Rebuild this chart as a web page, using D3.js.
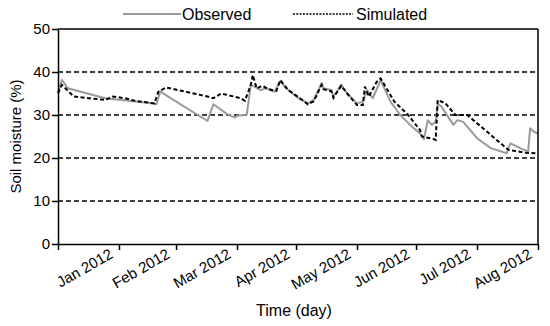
<!DOCTYPE html>
<html><head><meta charset="utf-8">
<script src="https://cdn.jsdelivr.net/npm/d3@7"></script>
<style>body{margin:0;background:#fff}svg{display:block}text{font-family:"Liberation Sans",Arial,sans-serif;fill:#000}</style>
</head><body><svg id="c" width="550" height="326"></svg>
<script>
const observedDates = ["2012-01-01","2012-01-03","2012-01-06","2012-01-25","2012-02-19","2012-02-20","2012-02-22","2012-02-27","2012-03-17","2012-03-20","2012-03-27","2012-03-31","2012-04-01","2012-04-05","2012-04-06","2012-04-08","2012-04-10","2012-04-13","2012-04-16","2012-04-20","2012-04-23","2012-04-26","2012-05-02","2012-05-07","2012-05-10","2012-05-14","2012-05-15","2012-05-19","2012-05-20","2012-05-24","2012-05-27","2012-06-01","2012-06-04","2012-06-06","2012-06-09","2012-06-13","2012-06-18","2012-06-23","2012-06-28","2012-07-03","2012-07-05","2012-07-07","2012-07-09","2012-07-11","2012-07-12","2012-07-14","2012-07-20","2012-07-22","2012-07-25","2012-08-01","2012-08-08","2012-08-16","2012-08-18","2012-08-23","2012-08-27","2012-08-28","2012-08-30","2012-09-01"];
const observedValues = [35.2,38.2,36.2,33.9,32.7,32.5,35.5,34.0,28.6,32.5,30.2,29.4,29.8,30.0,30.2,37.0,36.6,35.8,36.2,35.4,37.9,36.2,34.0,32.7,33.5,37.4,36.2,35.8,34.3,37.0,35.0,32.7,33.1,35.8,33.9,38.1,33.1,30.0,27.7,25.7,24.4,28.8,27.7,28.4,32.6,31.9,27.7,28.8,28.4,24.6,22.3,21.1,23.4,22.3,21.5,26.9,26.1,25.7];

const simulatedDates = ["2012-01-01","2012-01-03","2012-01-09","2012-01-25","2012-01-29","2012-02-04","2012-02-09","2012-02-19","2012-02-21","2012-02-25","2012-03-02","2012-03-10","2012-03-17","2012-03-20","2012-03-24","2012-04-03","2012-04-05","2012-04-08","2012-04-09","2012-04-11","2012-04-14","2012-04-17","2012-04-21","2012-04-23","2012-04-27","2012-05-03","2012-05-07","2012-05-10","2012-05-14","2012-05-15","2012-05-19","2012-05-20","2012-05-24","2012-05-27","2012-06-01","2012-06-04","2012-06-05","2012-06-07","2012-06-11","2012-06-13","2012-06-20","2012-06-27","2012-07-03","2012-07-04","2012-07-10","2012-07-11","2012-07-12","2012-07-16","2012-07-21","2012-07-27","2012-08-01","2012-08-11","2012-08-17","2012-08-26","2012-09-01"];
const simulatedValues = [35.1,37.0,34.3,33.5,34.3,33.9,33.3,32.7,35.4,36.4,35.8,35.0,34.3,33.9,35.0,33.9,33.3,37.0,39.3,36.2,36.8,36.0,35.6,38.1,35.8,33.9,32.5,33.2,37.0,36.0,35.5,34.0,36.8,35.0,32.3,32.3,36.6,34.3,37.7,38.5,33.1,30.0,26.5,25.0,24.4,24.2,33.5,32.7,30.0,30.0,28.1,24.2,21.9,21.2,21.1];

const yTicks = [0,10,20,30,40,50];
const gridValues = [10,20,30,40];
const monthTicks = ["2012-01-01","2012-02-01","2012-03-01","2012-04-01","2012-05-01","2012-06-01","2012-07-01","2012-08-01","2012-09-01"];
const monthLabels = ["Jan 2012","Feb 2012","Mar 2012","Apr 2012","May 2012","Jun 2012","Jul 2012","Aug 2012"];
const seriesNames = ["Observed","Simulated"];

const parse = d3.timeParse("%Y-%m-%d");
const obs = observedDates.map((d,i)=>({x:parse(d),y:observedValues[i]}));
const sim = simulatedDates.map((d,i)=>({x:parse(d),y:simulatedValues[i]}));
const ticks = monthTicks.map(parse);

const L=58,R=538,T=29,B=244;
const svg = d3.select("#c");
const x = d3.scaleTime().domain([ticks[0],ticks[ticks.length-1]]).range([L,R]);
const y = d3.scaleLinear().domain([0,50]).range([B,T]);

// grid
svg.append("g").selectAll("line").data(gridValues).join("line")
  .attr("x1",L).attr("x2",R).attr("y1",d=>y(d)).attr("y2",d=>y(d))
  .attr("stroke","#000").attr("stroke-width",1.3).attr("stroke-dasharray","5,3");

const line = d3.line().x(d=>x(d.x)).y(d=>y(d.y));
svg.append("path").datum(obs).attr("d",line).attr("fill","none")
  .attr("stroke","#9a9a9a").attr("stroke-width",2).attr("stroke-linejoin","round");
svg.append("path").datum(sim).attr("d",line).attr("fill","none")
  .attr("stroke","#000").attr("stroke-width",2).attr("stroke-dasharray","4,2.5");

// frame
svg.append("line").attr("x1",L).attr("x2",R).attr("y1",T).attr("y2",T).attr("stroke","#000").attr("stroke-width",1.5);
svg.append("line").attr("x1",R).attr("x2",R).attr("y1",T).attr("y2",B).attr("stroke","#000").attr("stroke-width",1.5);

// y axis
const ya = svg.append("g").attr("transform",`translate(${L},0)`)
  .call(d3.axisLeft(y).tickValues(yTicks).tickSize(6).tickSizeOuter(0).tickPadding(2));
ya.select(".domain").attr("stroke-width",1.5);
ya.selectAll(".tick line").attr("stroke-width",1.5);
ya.selectAll("text").style("font-size","15px").attr("font-family",null);

// x axis
const xa = svg.append("g").attr("transform",`translate(0,${B})`)
  .call(d3.axisBottom(x).tickValues(ticks).tickSize(6).tickSizeOuter(0).tickFormat(""));
xa.select(".domain").attr("stroke-width",1.5);
xa.selectAll(".tick line").attr("stroke-width",1.5);

svg.append("g").selectAll("text").data(monthLabels).join("text")
  .attr("transform",(d,i)=>`translate(${x(ticks[i+1])-5},${B+13}) rotate(-30)`)
  .attr("text-anchor","end").style("font-size","15px").text(d=>d);

svg.append("text").attr("x",294).attr("y",316).attr("text-anchor","middle")
  .style("font-size","16px").text("Time (day)");
svg.append("text").attr("transform",`translate(21,${(T+B)/2}) rotate(-90)`)
  .attr("text-anchor","middle").style("font-size","15px").text("Soil moisture (%)");

// legend
svg.append("line").attr("x1",123).attr("x2",181).attr("y1",14).attr("y2",14).attr("stroke","#9a9a9a").attr("stroke-width",2);
svg.append("text").attr("x",182).attr("y",19.5).style("font-size","16px").text(seriesNames[0]);
svg.append("line").attr("x1",293).attr("x2",353).attr("y1",14).attr("y2",14).attr("stroke","#000").attr("stroke-width",1.3).attr("stroke-dasharray","2,1.3");
svg.append("text").attr("x",356).attr("y",19.5).style("font-size","16px").text(seriesNames[1]);
</script></body></html>
